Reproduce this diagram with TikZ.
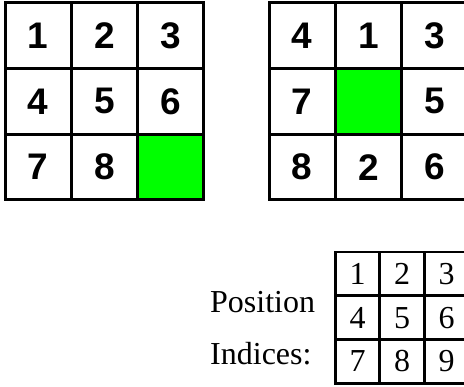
\documentclass[tikz,border=0pt]{standalone}
\usepackage{fontspec}
\setmainfont{Liberation Serif}
\setsansfont{Liberation Sans}
\begin{document}
\begin{tikzpicture}[x=1pt,y=-1pt,
  bigcell/.style={draw=black,line width=3pt,minimum width=66.3pt,minimum height=65.7pt,inner sep=0pt,
    font=\sffamily\bfseries\fontsize{37}{42}\selectfont},
  smallcell/.style={draw=black,line width=2.7pt,minimum width=44.5pt,minimum height=43.7pt,inner sep=0pt,
    font=\fontsize{32}{38}\selectfont},
  blank/.style={fill={rgb,255:red,0;green,255;blue,0}},
  lbl/.style={anchor=base west,inner sep=0pt,font=\fontsize{32}{40}\selectfont}]
\useasboundingbox (0,0) rectangle (464,387);
\clip (0,0) rectangle (464,387);
% left grid (goal state)
\foreach \t [count=\i from 0] in {1,2,3,4,5,6,7,8,{}} {
  \pgfmathtruncatemacro{\r}{int(\i/3)}
  \pgfmathtruncatemacro{\c}{mod(\i,3)}
  \ifnum\i=8
    \node[bigcell,blank] (L-\r-\c) at (38.2+66.3*\c, 35.7+65.7*\r) {\t};
  \else
    \node[bigcell] (L-\r-\c) at (38.2+66.3*\c, 35.7+65.7*\r) {\t};
  \fi
}
% right grid (current state)
\foreach \t [count=\i from 0] in {4,1,3,7,{},5,8,2,6} {
  \pgfmathtruncatemacro{\r}{int(\i/3)}
  \pgfmathtruncatemacro{\c}{mod(\i,3)}
  \ifnum\i=4
    \node[bigcell,blank] (R-\r-\c) at (302.2+66.3*\c, 35.7+65.7*\r) {\t};
  \else
    \node[bigcell] (R-\r-\c) at (302.2+66.3*\c, 35.7+65.7*\r) {\t};
  \fi
}
% position indices grid
\foreach \t [count=\i from 0] in {1,2,3,4,5,6,7,8,9} {
  \pgfmathtruncatemacro{\r}{int(\i/3)}
  \pgfmathtruncatemacro{\c}{mod(\i,3)}
  \node[smallcell] (P-\r-\c) at (357.5+44.5*\c, 274+43.7*\r) {\t};
}
\node[lbl] (pos1) at (210,313) {Position};
\node[lbl] (pos2) at (210,365) {Indices:};
\end{tikzpicture}
\end{document}
